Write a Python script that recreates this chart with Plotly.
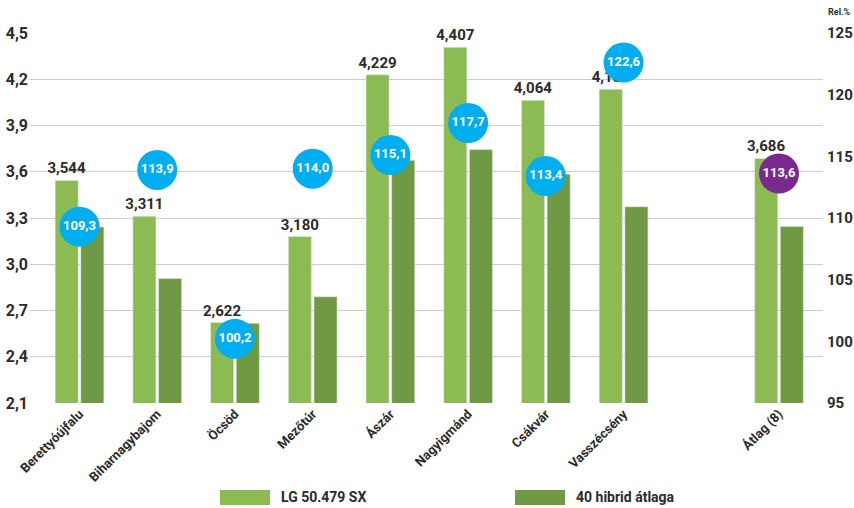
import plotly.graph_objects as go

categories = ["Berettyóújfalu", "Biharnagybajom", "Öcsöd", "Mezőtúr", "Ászár",
              "Nagyigmánd", "Csákvár", "Vasszécsény", " ", "Átlag (8)"]
lg_values = [3.544, 3.311, 2.622, 3.180, 4.229, 4.407, 4.064, 4.135, None, 3.686]
hybrid_avg = [3.242, 2.907, 2.617, 2.789, 3.674, 3.744, 3.584, 3.373, None, 3.245]
rel_values = [109.3, 113.9, 100.2, 114.0, 115.1, 117.7, 113.4, 122.6, None, 113.6]
left_ticks = [2.1, 2.4, 2.7, 3.0, 3.3, 3.6, 3.9, 4.2, 4.5]
right_ticks = [95, 100, 105, 110, 115, 120, 125]
series_names = ["LG 50.479 SX", "40 hibrid átlaga"]

LIGHT = "#8cba53"
DARK = "#6f9a43"
BLUE = "#00aeef"
PURPLE = "#7a2a8e"
FONT = "Roboto, Liberation Sans Narrow, sans-serif"
TXT = "#2b2b2b"

def fmt(v, d):
    return "" if v is None else f"{v:.{d}f}".replace(".", ",")

fig = go.Figure()
fig.add_trace(go.Bar(
    x=categories, y=lg_values, name=series_names[0], marker_color=LIGHT,
    text=[fmt(v, 3) for v in lg_values], textposition="outside",
    constraintext="none",
    textfont=dict(family=FONT, size=15, color=TXT, weight="bold"),
    cliponaxis=False, showlegend=False))
fig.add_trace(go.Bar(
    x=categories, y=hybrid_avg, name=series_names[1], marker_color=DARK,
    showlegend=False))
bubble_colors = [BLUE] * 9 + [PURPLE]
fig.add_trace(go.Scatter(
    x=categories, y=rel_values, yaxis="y2", mode="markers+text",
    marker=dict(size=40, color=bubble_colors, line=dict(width=0)),
    text=[fmt(v, 1) for v in rel_values], textposition="middle center",
    textfont=dict(family=FONT, size=13, color="white", weight="bold"),
    cliponaxis=False, showlegend=False))

fig.update_layout(
    width=854, height=508,
    margin=dict(l=30, r=31, t=33, b=105, autoexpand=False),
    paper_bgcolor="white", plot_bgcolor="white",
    separators=", ",
    barmode="group", bargap=0.34, bargroupgap=0.1,
    font=dict(family=FONT, color=TXT),
    showlegend=False,
    xaxis=dict(range=[-0.637, 9.566], tickangle=-45, automargin=False,
               tickfont=dict(family=FONT, size=13, color=TXT, weight="bold"),
               showgrid=False, showline=False, ticks=""),
    yaxis=dict(range=[2.1, 4.5], tickvals=left_ticks, automargin=False,
               ticktext=[fmt(v, 1) for v in left_ticks],
               showgrid=True, gridcolor="#cccccc", gridwidth=1.2, zeroline=False,
               tickfont=dict(family=FONT, size=16, color=TXT, weight="bold"),
               ticklabelstandoff=1),
    yaxis2=dict(range=[95, 125], tickvals=right_ticks, overlaying="y", side="right",
                showgrid=False, zeroline=False, automargin=False,
                tickfont=dict(family=FONT, size=15, color=TXT, weight="bold"),
                ticklabelstandoff=3),
)

fig.add_annotation(x=1.0214, y=1.057, xref="paper", yref="paper", text="Rel.%",
                   showarrow=False, xanchor="center", yanchor="middle",
                   font=dict(family=FONT, size=9, color=TXT, weight="bold"))

# custom legend
for (x0, x1, lx, col, name) in [(0.2396, 0.3026, 0.314, LIGHT, series_names[0]),
                                 (0.6116, 0.6747, 0.686, DARK, series_names[1])]:
    fig.add_shape(type="rect", xref="paper", yref="paper", x0=x0, x1=x1,
                  y0=-0.276, y1=-0.235, fillcolor=col, line=dict(width=0))
    fig.add_annotation(x=lx, y=-0.255, xref="paper", yref="paper", text=name,
                       showarrow=False, xanchor="left", yanchor="middle",
                       font=dict(family=FONT, size=14, color=TXT, weight="bold"))

fig.write_html("out.html", config={"displayModeBar": False},
               post_script="document.body.style.margin='0';"
                           "document.body.style.overflow='hidden';")
